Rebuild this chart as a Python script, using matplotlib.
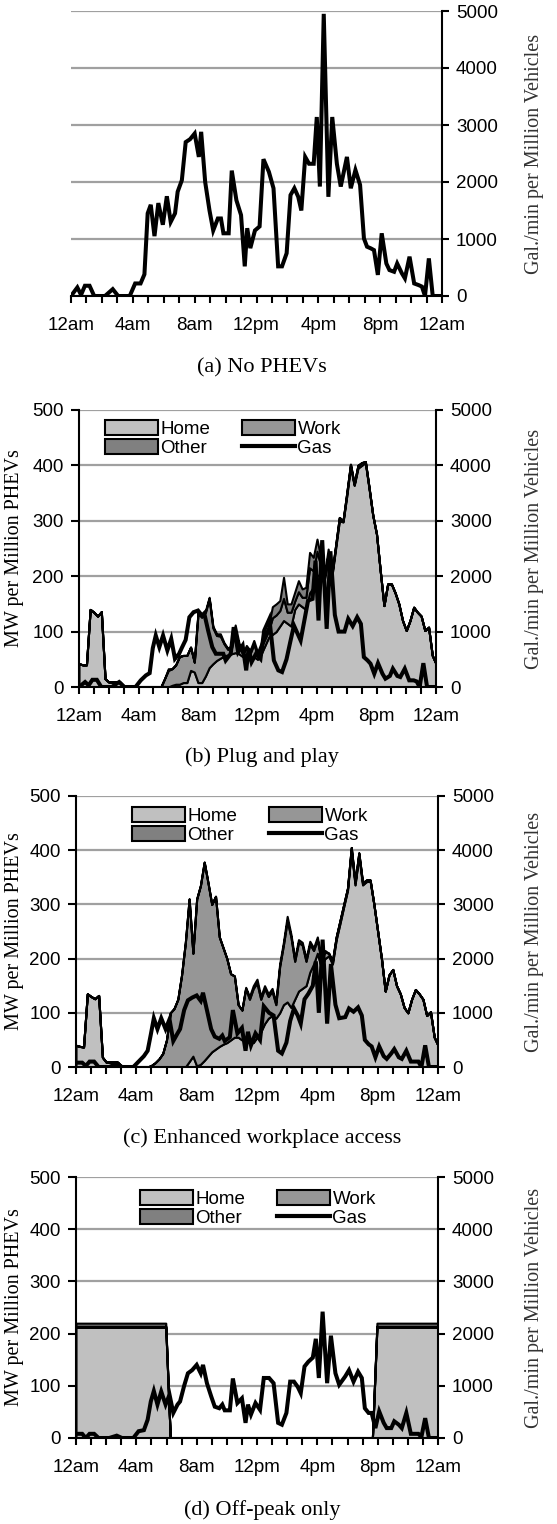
import numpy as np
import matplotlib
matplotlib.use('Agg')
import matplotlib.pyplot as plt
from matplotlib.patches import Patch
from matplotlib.lines import Line2D

# ---------------- data ----------------
xtick_hours = [0, 4, 8, 12, 16, 20, 24]
xtick_labels = ['12am', '4am', '8am', '12pm', '4pm', '8pm', '12am']
captions = ['(a) No PHEVs', '(b) Plug and play', '(c) Enhanced workplace access', '(d) Off-peak only']
series_names = ['Home', 'Work', 'Other', 'Gas']

gas_hours = [0, 0.41, 0.65, 0.9, 1.2, 1.5, 2.2, 2.7, 3.05, 3.8, 4.15, 4.5, 4.75, 4.96, 5.16, 5.4,
             5.65, 5.94, 6.2, 6.45, 6.73, 6.9, 7.17, 7.42, 7.7, 8.0, 8.27, 8.42, 8.68, 8.96, 9.2,
             9.5, 9.7, 9.86, 10.2, 10.4, 10.7, 11.0, 11.24, 11.4, 11.6, 11.9, 12.2, 12.45, 12.8,
             13.1, 13.4, 13.65, 13.95, 14.2, 14.45, 14.7, 14.9, 15.15, 15.4, 15.7, 15.9, 16.1,
             16.35, 16.65, 16.9, 17.2, 17.45, 17.85, 18.1, 18.4, 18.7, 18.95, 19.15, 19.4, 19.6,
             19.85, 20.1, 20.4, 20.6, 20.9, 21.1, 21.4, 21.6, 21.9, 22.2, 22.5, 22.7, 22.9, 23.15,
             23.4, 24.0]

gas_a = [0, 150, 20, 180, 180, 0, 0, 120, 0, 0, 220, 220, 380, 1450, 1600, 1050, 1630, 1250,
         1750, 1300, 1450, 1830, 2030, 2700, 2750, 2850, 2440, 2880, 2000, 1500, 1150, 1360, 1360,
         1100, 1100, 2200, 1680, 1420, 520, 1190, 840, 1150, 1220, 2400, 2180, 1890, 520, 520, 750,
         1770, 1890, 1740, 1500, 2440, 2320, 2320, 3140, 1920, 4950, 1740, 3140, 2320, 1920, 2440,
         1890, 2210, 1950, 1010, 865, 835, 805, 370, 1100, 570, 455, 425, 570, 400, 310, 690, 220,
         190, 165, 0, 660, 0, 0]

gas_b = [0, 90, 30, 130, 130, 0, 0, 90, 0, 0, 120, 210, 250, 700, 930, 720, 930, 660, 870, 510,
         600, 700, 850, 1260, 1350, 1380, 1290, 1330, 1020, 720, 600, 600, 600, 480, 600, 1080, 630,
         750, 300, 690, 450, 600, 510, 1020, 1230, 480, 300, 270, 500, 810, 1110, 960, 840, 1200,
         1560, 1590, 2280, 1200, 2650, 1050, 2450, 1300, 1000, 1000, 1230, 1100, 1260, 1140, 540,
         480, 420, 240, 430, 240, 150, 200, 330, 200, 180, 330, 120, 120, 100, 0, 430, 0, 0]

gas_c = [80, 80, 20, 100, 100, 0, 0, 60, 0, 0, 100, 200, 300, 600, 900, 700, 900, 700, 880, 480,
         620, 700, 1050, 1230, 1280, 1320, 1220, 1370, 1050, 700, 560, 520, 580, 480, 550, 1050,
         620, 720, 300, 650, 400, 620, 500, 1120, 1000, 950, 300, 250, 450, 850, 1080, 950, 800,
         1250, 1350, 1500, 1950, 1000, 2350, 800, 1900, 1150, 900, 920, 1080, 1020, 1100, 950, 500,
         420, 380, 180, 380, 200, 150, 250, 330, 180, 150, 300, 100, 100, 100, 0, 400, 0, 0]

gas_d = [80, 80, 0, 80, 80, 0, 0, 45, 0, 0, 130, 150, 350, 700, 900, 640, 890, 640, 830, 480,
         640, 700, 1000, 1240, 1300, 1400, 1240, 1400, 1050, 800, 600, 570, 640, 530, 530, 1140,
         670, 760, 290, 640, 450, 670, 540, 1150, 1150, 1050, 290, 255, 480, 1080, 1080, 980, 860,
         1370, 1460, 1540, 1900, 1150, 2420, 1050, 1960, 1240, 1020, 1180, 1300, 1080, 1270, 1150,
         570, 480, 480, 190, 510, 290, 190, 190, 320, 255, 190, 480, 80, 80, 80, 20, 380, 0, 0]

# charging load layers (MW per million PHEVs) on a 15-minute grid, 12am..12am
area_hours = np.linspace(0, 24, 97)

home_b = [42, 40, 40, 140, 135, 128, 136, 15, 9, 9, 9, 9, 2, 0, 0, 0, 0, 0, 0, 0, 0, 0, 0, 0,
          0, 3, 5, 5, 8, 8, 30, 27, 8, 8, 20, 35, 42, 48, 52, 56, 58, 60, 62, 60, 55, 52, 50, 55,
          50, 60, 75, 90, 95, 100, 110, 120, 115, 110, 140, 150, 145, 140, 170, 180, 200, 205, 195,
          230, 200, 250, 300, 298, 345, 398, 364, 395, 400, 405, 358, 310, 276, 210, 147, 186, 186,
          170, 150, 120, 102, 120, 144, 135, 128, 102, 108, 57, 42]
work_b = [0] * 22 + [0, 15, 30, 30, 35, 50, 49, 49, 42, 18, 125, 118, 115, 125, 65, 45, 40, 22, 10,
                     10, 40, 15, 5, 18, 10, 22, 8, 12, 12, 12, 30, 30, 28, 40, 20, 25, 15, 22, 17,
                     22, 45, 30, 45, 14, 5, 10, 4, 5, 6, 2, 5, 4, 2, 5, 5, 2, 2] + [0] * 18
other_b = [0] * 24 + [3, 0, 0, 0, 0, 0, 0, 0, 2, 2, 3, 2, 3, 3, 4, 2, 2, 5, 10, 5, 0, 5, 6, 7, 5,
                      8, 9, 9, 20, 20, 18, 38, 15, 15, 16, 20, 15, 18, 28, 24, 22, 15, 4, 9] + [0] * 29

home_c = [40, 38, 37, 135, 130, 126, 132, 18, 9, 9, 9, 9, 2] + [0] * 17 + [
          10, 20, 2, 5, 12, 20, 28, 33, 38, 42, 45, 50, 55, 55, 50, 50, 45, 45, 55, 65, 80, 90, 95,
          90, 100, 115, 120, 110, 125, 140, 145, 150, 175, 190, 210, 185, 200, 205, 190, 235, 265,
          296, 326, 400, 336, 390, 336, 342, 343, 300, 250, 200, 140, 170, 180, 150, 135, 110, 100,
          125, 143, 135, 125, 95, 102, 55, 40]
work_c = [0] * 20 + [3, 8, 15, 25, 50, 100, 108, 125, 170, 230, 300, 190, 308, 330, 366, 320, 272,
                     282, 202, 178, 155, 122, 113, 60, 55, 95, 80, 100, 100, 60, 65, 40, 45, 25, 85,
                     110, 150, 130, 70, 90, 80, 45, 52, 25, 25, 12, 12, 5, 5, 5, 5, 4, 4, 5, 4, 5,
                     4, 3, 2] + [0] * 18
other_c = [0] * 45 + [2, 5, 5, 7, 5, 5, 5, 5, 5, 5, 5, 8, 5, 5, 5, 5, 5, 5, 5, 5, 3, 3] + [0] * 30

d_hours = [0, 5.95, 6.25, 19.65, 19.95, 24]
home_d = [212, 212, 0, 0, 212, 212]
work_d = [2, 2, 0, 0, 2, 2]
other_d = [6, 6, 0, 0, 6, 6]

# ---------------- style ----------------
SANS = 'Liberation Sans'
SERIF = 'Liberation Serif'
C_HOME, C_WORK, C_OTHER = '#c0c0c0', '#969696', '#808080'
GRID = '#a0a0a0'
W, H = 557, 1524
TICK_FS = 13.5

fig = plt.figure(figsize=(W / 100, H / 100), dpi=100)


def rect(x0, x1, y0, y1):
    return [x0 / W, 1 - y1 / H, (x1 - x0) / W, (y1 - y0) / H]


def style_x(ax):
    ax.set_xlim(0, 24)
    ax.set_xticks(xtick_hours)
    ax.set_xticklabels(xtick_labels, fontfamily=SANS, fontsize=TICK_FS)
    ax.set_xticks(np.arange(0, 25, 1), minor=True)
    ax.tick_params(axis='x', which='both', direction='out', length=5, width=1.5, pad=10)


def right_axis(ax):
    ax.set_ylim(0, 5000)
    ax.set_yticks([0, 1000, 2000, 3000, 4000, 5000])
    ax.yaxis.tick_right()
    ax.tick_params(axis='y', which='both', right=True, left=False, labelright=True, labelleft=False,
                   direction='out', length=5, width=1.5, pad=5, labelsize=TICK_FS)
    for t in ax.get_yticklabels():
        t.set_fontfamily(SANS)


layout = [(71, 442, 11, 296), (79, 436, 410, 687), (76, 438, 796, 1067), (76, 438, 1177, 1438)]
caption_y = [368, 757, 1138, 1510]
legend_anchor = [None, (0.073, 0.964), (0.155, 0.959), (0.177, 0.950)]

# ---- panel (a) ----
x0, x1, y0, y1 = layout[0]
axa = fig.add_axes(rect(x0, x1, y0, y1))
axa.set_axisbelow(True)
axa.plot(gas_hours, gas_a, color='black', lw=2.9, solid_joinstyle='miter', zorder=3)
style_x(axa)
right_axis(axa)
axa.yaxis.grid(True, color=GRID, lw=1.6)
for s in ['left', 'top']:
    axa.spines[s].set_visible(False)
for s in ['right', 'bottom']:
    axa.spines[s].set_linewidth(1.5)
    axa.spines[s].set_color('black')

panels = [
    (home_b, work_b, other_b, area_hours, gas_b),
    (home_c, work_c, other_c, area_hours, gas_c),
    (home_d, work_d, other_d, d_hours, gas_d),
]

for i, (home, work, other, hrs, gas) in enumerate(panels, start=1):
    x0, x1, y0, y1 = layout[i]
    ax = fig.add_axes(rect(x0, x1, y0, y1))
    ax.set_axisbelow(True)
    home = np.asarray(home, float)
    work = np.asarray(work, float)
    other = np.asarray(other, float)
    base = np.zeros_like(home)
    for vals, col in [(home, C_HOME), (work, C_WORK), (other, C_OTHER)]:
        ax.fill_between(hrs, base, base + vals, facecolor=col, edgecolor='black', lw=1.5,
                        zorder=2)
        base = base + vals
    ax.set_ylim(0, 500)
    ax.set_yticks([0, 100, 200, 300, 400, 500])
    ax.yaxis.grid(True, color=GRID, lw=1.6)
    ax.tick_params(axis='y', direction='out', length=6, width=1.5, pad=5, labelsize=TICK_FS)
    for t in ax.get_yticklabels():
        t.set_fontfamily(SANS)
    style_x(ax)
    for s in ['right', 'top']:
        ax.spines[s].set_visible(False)
    for s in ['left', 'bottom']:
        ax.spines[s].set_linewidth(1.5)
        ax.spines[s].set_color('black')

    ax2 = ax.twinx()
    ax2.plot(gas_hours, gas, color='black', lw=2.9, solid_joinstyle='miter', zorder=3)
    right_axis(ax2)
    ax2.set_xlim(0, 24)
    for s in ['left', 'top', 'bottom']:
        ax2.spines[s].set_visible(False)
    ax2.spines['right'].set_linewidth(1.5)
    ax2.spines['right'].set_color('black')

    handles = [Patch(facecolor=C_HOME, edgecolor='black', lw=1.5),
               Patch(facecolor=C_OTHER, edgecolor='black', lw=1.5),
               Patch(facecolor=C_WORK, edgecolor='black', lw=1.5),
               Line2D([], [], color='black', lw=3)]
    labels = [series_names[0], series_names[2], series_names[1], series_names[3]]
    ax2.legend(handles, labels, ncol=2, loc='upper left', bbox_to_anchor=legend_anchor[i],
               frameon=False, borderpad=0, borderaxespad=0, handlelength=2.8,
               handleheight=0.85, handletextpad=0.15, columnspacing=1.7, labelspacing=0.05,
               prop={'family': SANS, 'size': 13.5})

    fig.text(15 / W, 1 - ((y0 + y1) / 2) / H, 'MW per Million PHEVs', rotation=90,
             ha='center', va='center', fontfamily=SERIF, fontsize=14.5)

for i, (x0, x1, y0, y1) in enumerate(layout):
    fig.text(534 / W, 1 - ((y0 + y1) / 2) / H, 'Gal./min per Million Vehicles', rotation=90,
             ha='center', va='center', fontfamily=SERIF, fontsize=14.5, color='#333333')
    fig.text(262 / W, 1 - caption_y[i] / H, captions[i], ha='center', va='center',
             fontfamily=SERIF, fontsize=16)

fig.savefig('out.png', dpi=100)
